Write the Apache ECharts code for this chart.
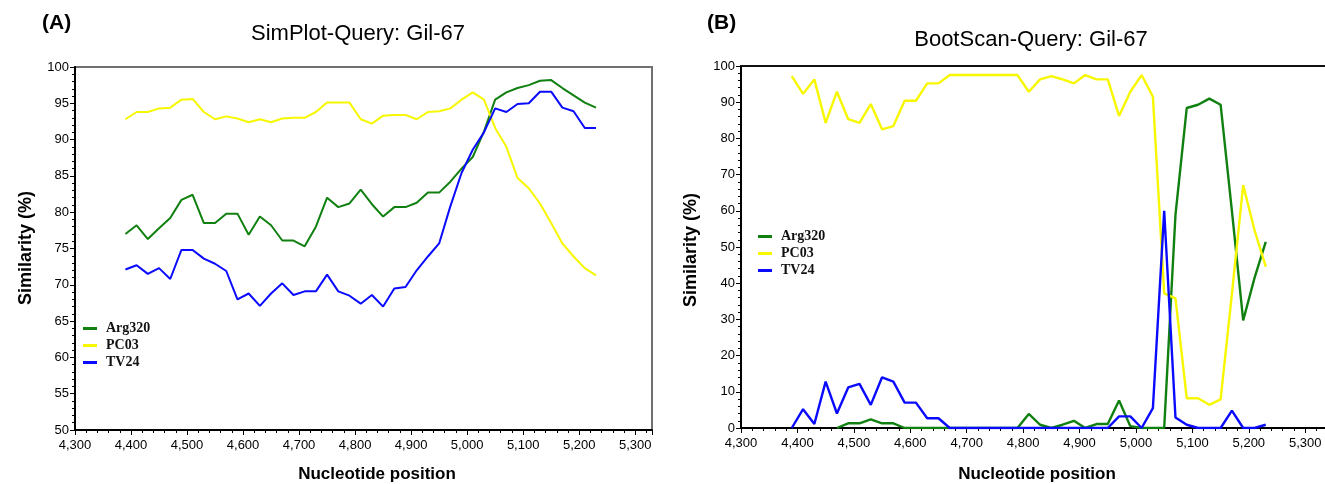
<!DOCTYPE html>
<html>
<head>
<meta charset="utf-8">
<script src="https://cdn.jsdelivr.net/npm/echarts@6/dist/echarts.min.js"></script>
<style>
html,body{margin:0;padding:0;background:#fff;}
#chart{width:1325px;height:484px;}
</style>
</head>
<body>
<div id="chart"></div>
<script>
// Nucleotide positions (window midpoints) shared by both panels
const positions = [4390,4410,4430,4450,4470,4490,4510,4530,4550,4570,4590,4610,4630,4650,4670,4690,4710,4730,4750,4770,4790,4810,4830,4850,4870,4890,4910,4930,4950,4970,4990,5010,5030,5050,5070,5090,5110,5130,5150,5170,5190,5210,5230];

const seriesNames = ['Arg320', 'PC03', 'TV24'];

// (A) SimPlot similarity (%)
const simArg320 = [77.0,78.2,76.3,77.8,79.2,81.7,82.4,78.5,78.5,79.8,79.8,76.9,79.4,78.2,76.1,76.1,75.3,78.0,82.0,80.7,81.2,83.1,81.1,79.4,80.7,80.7,81.3,82.7,82.7,84.2,86.0,87.6,91.1,95.5,96.5,97.1,97.5,98.1,98.2,97.1,96.1,95.1,94.4];
const simPC03   = [92.8,93.8,93.8,94.3,94.4,95.5,95.6,93.8,92.8,93.2,92.9,92.4,92.8,92.4,92.9,93.0,93.0,93.8,95.1,95.1,95.1,92.8,92.2,93.3,93.4,93.4,92.8,93.8,93.9,94.3,95.5,96.5,95.5,91.6,89.0,84.7,83.3,81.2,78.5,75.7,73.9,72.3,71.3];
const simTV24   = [72.1,72.7,71.5,72.3,70.8,74.8,74.8,73.6,72.9,71.9,68.0,68.8,67.1,68.8,70.2,68.6,69.1,69.1,71.4,69.1,68.5,67.4,68.6,67.0,69.5,69.7,72.0,73.9,75.7,80.8,85.4,88.6,91.0,94.3,93.8,94.9,95.0,96.6,96.6,94.4,93.9,91.6,91.6];

// (B) BootScan (% of permuted trees)
const bootArg320 = [null,null,null,null,0,1.3,1.3,2.4,1.3,1.3,0,0,0,0,0,0,0,0,0,0,0,3.9,0.9,0,0.9,2.0,0,1.1,1.1,7.6,0.5,0,0,0,58.9,88.4,89.3,91.0,89.3,60.0,29.7,41.4,51.4];
const bootPC03   = [97.2,92.3,96.3,84.3,92.9,85.3,84.3,89.5,82.5,83.4,90.4,90.4,95.2,95.2,97.5,97.5,97.5,97.5,97.5,97.5,97.5,92.9,96.3,97.2,96.3,95.2,97.5,96.3,96.3,86.2,92.9,97.5,91.5,37.2,35.8,8.2,8.2,6.4,7.9,37.0,67.1,54.7,44.6];
const bootTV24   = [0,5.2,1.1,12.8,4.0,11.2,12.2,6.4,14.0,12.8,7.0,7.0,2.7,2.7,0,0,0,0,0,0,0,0,0,0,0,0,0,0,0,3.2,3.2,0,5.5,60.0,2.9,0.9,0,0,0,4.8,0,0,0.9];

// Axis tick settings
const xTickStart = 4300, xTickStep = 100;
const simYTicks = {min: 50, max: 100, step: 5};
const bootYTicks = {min: 0, max: 100, step: 10};

const colors = ['#108010', '#f7f700', '#0a0aff'];

function pairs(vals){ return positions.map((x,i)=>[x, vals[i]]); }
function fmt(v){ return String(Math.round(v)).replace(/\B(?=(\d{3})+(?!\d))/g, ','); }

const tickFont = {fontFamily:'"Liberation Sans", Arial, sans-serif', fontSize:13, color:'#000'};

function xAxisCfg(grid, max){
  return {
    type:'value', gridIndex:grid, min:xTickStart, max:max, interval:xTickStep,
    axisLine:{show:true, onZero:false, lineStyle:{color:'#000', width:2}},
    axisTick:{show:true, inside:false, length:5, lineStyle:{color:'#000', width:1}},
    minorTick:{show:true, splitNumber:5, length:3, lineStyle:{color:'#000', width:1}},
    splitLine:{show:false},
    axisLabel:Object.assign({margin:9, formatter:fmt, showMaxLabel:false}, tickFont)
  };
}
function yAxisCfg(grid, t){
  return {
    type:'value', gridIndex:grid, min:t.min, max:t.max, interval:t.step,
    axisLine:{show:true, onZero:false, lineStyle:{color:'#000', width:2}},
    axisTick:{show:true, inside:false, length:5, lineStyle:{color:'#000', width:1}},
    minorTick:{show:true, splitNumber:5, length:3, lineStyle:{color:'#000', width:1}},
    splitLine:{show:false},
    axisLabel:Object.assign({margin:6}, tickFont)
  };
}
function lineSeries(name, vals, xi, yi, color, w){
  return {
    type:'line', name:name, xAxisIndex:xi, yAxisIndex:yi, data:pairs(vals),
    showSymbol:false, symbol:'none', smooth:false, connectNulls:false,
    lineStyle:{color:color, width:w}, itemStyle:{color:color},
    emphasis:{disabled:true}, animation:false
  };
}
function legendCfg(left, top){
  return {
    show:true, orient:'vertical', left:left, top:top, icon:'rect',
    itemWidth:14, itemHeight:3, itemGap:0, selectedMode:false,
    data:seriesNames,
    textStyle:{fontFamily:'"Liberation Serif", "Times New Roman", serif', fontWeight:'bold', fontSize:14, color:'#111', lineHeight:17, padding:[0,0,0,4]}
  };
}

const chart = echarts.init(document.getElementById('chart'), null, {renderer:'canvas'});
const titleFont = '"Liberation Sans", Arial, sans-serif';
chart.setOption({
  backgroundColor:'#fff',
  animation:false,
  grid:[
    {left:75, right:673, top:67, bottom:54, show:true, borderColor:'#707070', borderWidth:2, backgroundColor:'transparent'},
    {left:741, right:0, top:66, bottom:56, show:false}
  ],
  xAxis:[
    xAxisCfg(0, 5330),
    xAxisCfg(1, 5335),
    {type:'value', gridIndex:1, position:'top', min:xTickStart, max:5335,
     axisLine:{show:true, onZero:false, lineStyle:{color:'#111', width:2}},
     axisTick:{show:false}, axisLabel:{show:false}, splitLine:{show:false}}
  ],
  yAxis:[ yAxisCfg(0, simYTicks), yAxisCfg(1, bootYTicks) ],
  legend:[ legendCfg(78, 315), legendCfg(753, 223) ],
  series:[
    lineSeries('Arg320', simArg320, 0, 0, colors[0], 2),
    lineSeries('PC03',   simPC03,   0, 0, colors[1], 2),
    lineSeries('TV24',   simTV24,   0, 0, colors[2], 2),
    lineSeries('Arg320', bootArg320, 1, 1, colors[0], 2.4),
    lineSeries('PC03',   bootPC03,   1, 1, colors[1], 2.4),
    lineSeries('TV24',   bootTV24,   1, 1, colors[2], 2.4)
  ],
  graphic:[
    {type:'text', x:42, y:23, style:{text:'(A)', font:'bold 21px '+titleFont, fill:'#000', align:'left', verticalAlign:'middle'}},
    {type:'text', x:358, y:34, style:{text:'SimPlot-Query: Gil-67', font:'22px '+titleFont, fill:'#000', align:'center', verticalAlign:'middle'}},
    {type:'text', x:707, y:23, style:{text:'(B)', font:'bold 21px '+titleFont, fill:'#000', align:'left', verticalAlign:'middle'}},
    {type:'text', x:1031, y:40, style:{text:'BootScan-Query: Gil-67', font:'22px '+titleFont, fill:'#000', align:'center', verticalAlign:'middle'}},
    {type:'text', x:26, y:248, rotation:Math.PI/2, style:{text:'Similarity (%)', font:'bold 18px '+titleFont, fill:'#000', align:'center', verticalAlign:'middle'}},
    {type:'text', x:691, y:250, rotation:Math.PI/2, style:{text:'Similarity (%)', font:'bold 18px '+titleFont, fill:'#000', align:'center', verticalAlign:'middle'}},
    {type:'text', x:377, y:474, style:{text:'Nucleotide position', font:'bold 17px '+titleFont, fill:'#000', align:'center', verticalAlign:'middle'}},
    {type:'text', x:1037, y:474, style:{text:'Nucleotide position', font:'bold 17px '+titleFont, fill:'#000', align:'center', verticalAlign:'middle'}}
  ]
});
</script>
</body>
</html>
